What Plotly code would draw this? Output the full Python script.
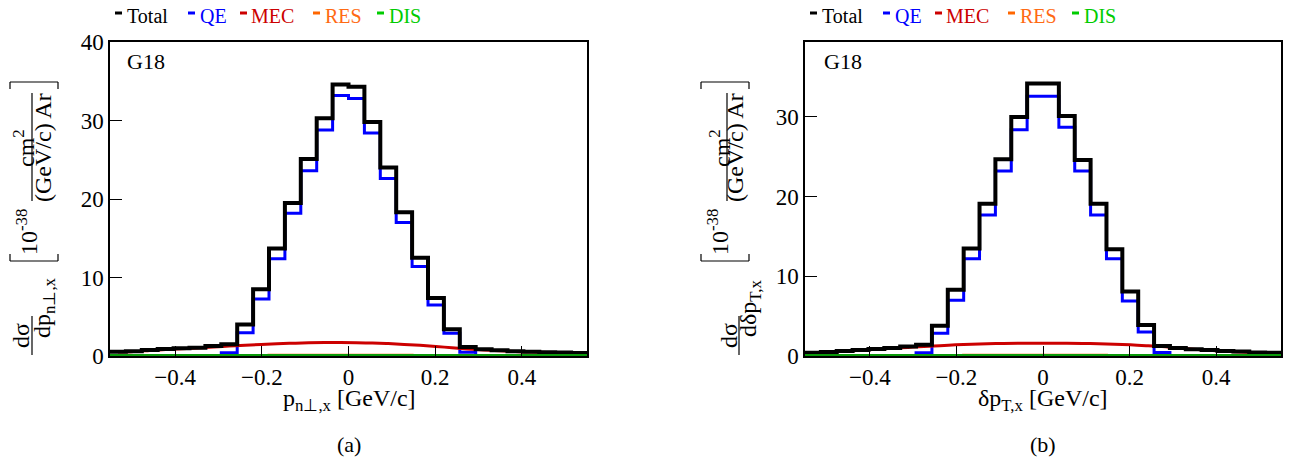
import plotly.graph_objects as go

# ── Canvas ────────────────────────────────────────────────────────────────────
# the page body adds an 8px margin, so the figure is drawn 8px smaller and all
# layout positions below are given in window pixels and shifted by OFF
OFF = 8
W, H = 1292 - OFF, 466 - OFF
FONT = "Liberation Serif"

# ── Data (30 uniform bins on [-0.55, 0.55]) ───────────────────────────────────
n_bins = 30
x_lo, x_hi = -0.55, 0.55
edges = [x_lo + i * (x_hi - x_lo) / n_bins for i in range(n_bins + 1)]
centers = [(edges[i] + edges[i + 1]) / 2 for i in range(n_bins)]

# panel (a): p_{n perp, x}
a_total = [0.55, 0.60, 0.76, 0.89, 0.98, 1.06, 1.27, 1.49, 4.0, 8.5,
           13.7, 19.5, 25.1, 30.3, 34.6, 34.3, 29.8, 24.0, 18.3, 12.5,
           7.4, 3.4, 1.15, 0.85, 0.72, 0.60, 0.55, 0.47, 0.43, 0.38]
a_qe = [0, 0, 0, 0, 0, 0, 0, 0.40, 2.97, 7.26,
        12.4, 18.2, 23.6, 28.8, 33.2, 32.8, 28.4, 22.6, 17.0, 11.4,
        6.5, 2.9, 0.47, 0, 0, 0, 0, 0, 0, 0]
a_mec = [0.50, 0.57, 0.70, 0.83, 0.93, 1.03, 1.14, 1.26, 1.38, 1.48,
         1.57, 1.63, 1.68, 1.71, 1.72, 1.70, 1.66, 1.58, 1.48, 1.36,
         1.22, 1.05, 0.90, 0.78, 0.66, 0.56, 0.50, 0.43, 0.39, 0.34]
a_res = [0.03, 0.03, 0.04, 0.04, 0.05, 0.05, 0.06, 0.06, 0.07, 0.07,
         0.08, 0.08, 0.08, 0.08, 0.08, 0.08, 0.08, 0.08, 0.08, 0.07,
         0.07, 0.06, 0.06, 0.05, 0.05, 0.04, 0.04, 0.03, 0.03, 0.03]
a_dis = [0.06] * n_bins

# panel (b): delta p_{T,x}
b_total = [0.42, 0.50, 0.63, 0.75, 0.88, 1.00, 1.20, 1.42, 3.8, 8.3,
           13.5, 19.1, 24.7, 30.0, 34.2, 34.2, 30.1, 24.6, 19.1, 13.4,
           8.1, 3.9, 1.25, 1.00, 0.85, 0.75, 0.63, 0.55, 0.45, 0.42]
b_qe = [0, 0, 0, 0, 0, 0, 0, 0.42, 2.84, 7.0,
        12.2, 17.7, 23.2, 28.4, 32.6, 32.6, 28.7, 23.2, 17.7, 12.2,
        6.9, 3.0, 0.45, 0, 0, 0, 0, 0, 0, 0]
b_mec = [0.40, 0.48, 0.60, 0.72, 0.84, 0.96, 1.08, 1.20, 1.30, 1.40,
         1.48, 1.54, 1.58, 1.60, 1.61, 1.61, 1.60, 1.58, 1.54, 1.48,
         1.40, 1.30, 1.18, 1.00, 0.85, 0.72, 0.60, 0.50, 0.42, 0.38]
b_res = a_res
b_dis = [0.06] * n_bins

y_max_a, y_max_b = 40.0, 39.4
x_ticks = [-0.4, -0.2, 0, 0.2, 0.4]

COL = dict(Total="#000000", QE="#0000ff", MEC="#cc0000", RES="#ff6600", DIS="#0a9a0a")
TXT = dict(Total="#000000", QE="#0000ff", MEC="#cc0000", RES="#ff6a13", DIS="#00cc00")


def px(x):
    return (x - OFF) / W


def py(y):
    return 1 - (y - OFF) / H


def step(vals):
    return vals + [vals[-1]]


fig = go.Figure()

panels = [
    dict(xa="x", ya="y", total=a_total, qe=a_qe, mec=a_mec, res=a_res, dis=a_dis),
    dict(xa="x2", ya="y2", total=b_total, qe=b_qe, mec=b_mec, res=b_res, dis=b_dis),
]

for p in panels:
    fig.add_trace(go.Scatter(x=edges, y=step(p["qe"]), mode="lines", line_shape="hv",
                             line=dict(color=COL["QE"], width=3), xaxis=p["xa"], yaxis=p["ya"]))
    fig.add_trace(go.Scatter(x=centers, y=p["mec"], mode="lines", line_shape="spline",
                             line=dict(color=COL["MEC"], width=3), xaxis=p["xa"], yaxis=p["ya"]))
    fig.add_trace(go.Scatter(x=edges, y=step(p["res"]), mode="lines", line_shape="hv",
                             line=dict(color=COL["RES"], width=3), xaxis=p["xa"], yaxis=p["ya"]))
    fig.add_trace(go.Scatter(x=edges, y=step(p["total"]), mode="lines", line_shape="hv",
                             line=dict(color=COL["Total"], width=4), xaxis=p["xa"], yaxis=p["ya"]))
    fig.add_trace(go.Scatter(x=edges, y=step(p["dis"]), mode="lines", line_shape="hv",
                             line=dict(color=COL["DIS"], width=3), xaxis=p["xa"], yaxis=p["ya"]))

axis_common = dict(
    showline=True, linecolor="black", linewidth=1.5, mirror=True, automargin=False,
    ticks="inside", tickcolor="black", tickwidth=1, showgrid=False, zeroline=False,
    tickfont=dict(family=FONT, size=23, color="black"),
)

fig.update_layout(
    width=W, height=H,
    template="none",
    paper_bgcolor="white", plot_bgcolor="white",
    margin=dict(l=0, r=0, t=0, b=0, autoexpand=False),
    showlegend=False,
    xaxis=dict(domain=[px(110), px(587)], range=[x_lo, x_hi], tickvals=x_ticks,
               ticklen=10, anchor="y", **axis_common),
    yaxis=dict(domain=[py(356), py(42)], range=[0, y_max_a], dtick=10,
               ticklen=12, anchor="x", **axis_common),
    xaxis2=dict(domain=[px(805), px(1281)], range=[x_lo, x_hi], tickvals=x_ticks,
                ticklen=10, anchor="y2", **axis_common),
    yaxis2=dict(domain=[py(356), py(42)], range=[0, y_max_b], dtick=10,
                ticklen=12, anchor="x2", **axis_common),
)

shapes, annos = [], []


def text(x, y, s, size=24, color="black", angle=0, xanchor="center"):
    annos.append(dict(x=px(x), y=py(y), xref="paper", yref="paper", text=s, showarrow=False,
                      textangle=angle, xanchor=xanchor, yanchor="middle",
                      font=dict(family=FONT, size=size, color=color)))


def seg(x0, y0, x1, y1, color="black", width=1.2):
    shapes.append(dict(type="line", xref="paper", yref="paper",
                       x0=px(x0), y0=py(y0), x1=px(x1), y1=py(y1),
                       line=dict(color=color, width=width)))


def legend(x0):
    entries = [("Total", 0, 10), ("QE", 73, 83), ("MEC", 125, 134), ("RES", 198, 208), ("DIS", 262, 272)]
    for name, dx, tx in entries:
        seg(x0 + dx, 13, x0 + dx + 7, 13, color=COL[name] if name != "DIS" else TXT["DIS"], width=3)
        text(x0 + tx, 16, name, size=20, color=TXT[name], xanchor="left")


def ytitle(x0, denom, num_x, low_bar, den_x, up_num_x, up_bar, up_den_x, p10_x):
    # closing bracket (top) and opening bracket (bottom), rotated
    seg(x0, 82, x0 + 48, 82)
    seg(x0, 82, x0, 89)
    seg(x0 + 48, 82, x0 + 48, 89)
    seg(x0, 261, x0 + 48, 261)
    seg(x0, 261, x0, 254)
    seg(x0 + 48, 261, x0 + 48, 254)
    # upper fraction
    text(up_num_x, 148, "cm<sup>2</sup>", angle=-90)
    seg(up_bar, 93, up_bar, 201)
    text(up_den_x, 148, "(GeV/c) Ar", angle=-90)
    # prefactor
    text(p10_x, 232, "10<sup>-38</sup>", angle=-90)
    # lower fraction
    text(num_x, 336, "dσ", angle=-90)
    seg(low_bar, 316, low_bar, 355)
    text(den_x, 308, denom, angle=-90)


legend(115)
legend(810)

ytitle(10, "dp<sub>n⊥,x</sub>", 21, 32, 44, 24, 32, 43, 27)
ytitle(701, "dδp<sub>T,x</sub>", 729, 739, 750, 720, 727, 735, 718)

text(349, 400, "p<sub>n⊥,x</sub> [GeV/c]")
text(1043, 400, "δp<sub>T,x</sub> [GeV/c]")
text(349, 444, "(a)", size=22)
text(1043, 444, "(b)", size=22)
text(125, 61, "G18", size=22, xanchor="left")
text(822, 61, "G18", size=22, xanchor="left")

fig.update_layout(shapes=shapes, annotations=annos)

fig.write_html("out.html")
